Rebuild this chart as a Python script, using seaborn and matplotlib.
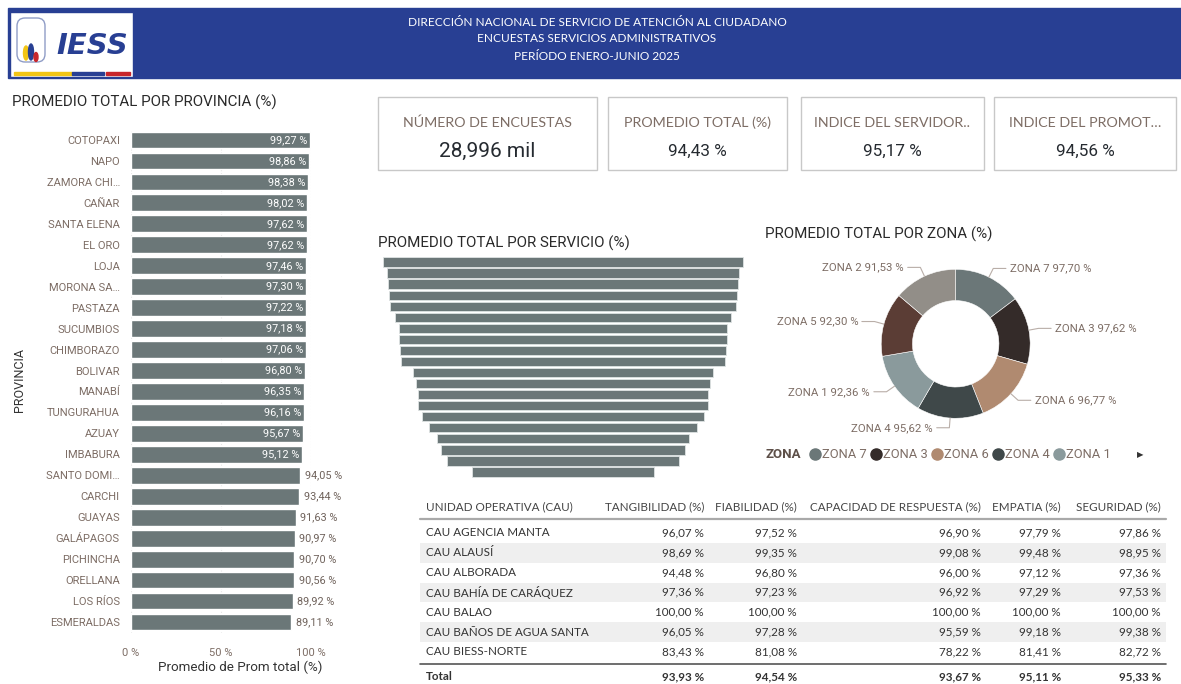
import matplotlib
matplotlib.use("Agg")
import matplotlib.pyplot as plt
from matplotlib.patches import Rectangle, Ellipse, FancyBboxPatch
from matplotlib.lines import Line2D
import numpy as np
import seaborn as sns

# ---- data ----
provincias = ["COTOPAXI", "NAPO", "ZAMORA CHI…", "CAÑAR", "SANTA ELENA", "EL ORO", "LOJA",
              "MORONA SA…", "PASTAZA", "SUCUMBIOS", "CHIMBORAZO", "BOLIVAR", "MANABÍ",
              "TUNGURAHUA", "AZUAY", "IMBABURA", "SANTO DOMI…", "CARCHI", "GUAYAS",
              "GALÁPAGOS", "PICHINCHA", "ORELLANA", "LOS RÍOS", "ESMERALDAS"]
prom_provincia = [99.27, 98.86, 98.38, 98.02, 97.62, 97.62, 97.46, 97.30, 97.22, 97.18, 97.06,
                  96.80, 96.35, 96.16, 95.67, 95.12, 94.05, 93.44, 91.63, 90.97, 90.70, 90.56,
                  89.92, 89.11]

# funnel (no labels shown, widths, relative to the top bar)
servicios = ["S01", "S02", "S03", "S04", "S05", "S06", "S07", "S08", "S09", "S10",
             "S11", "S12", "S13", "S14", "S15", "S16", "S17", "S18", "S19", "S20"]
prom_servicio = [100.0, 97.3, 97.2, 96.4, 95.7, 92.9, 91.1, 90.9, 90.3, 90.0,
                 83.3, 81.3, 80.6, 80.1, 78.3, 74.1, 69.6, 67.4, 64.0, 50.6]

zonas = ["ZONA 7", "ZONA 3", "ZONA 6", "ZONA 4", "ZONA 1", "ZONA 5", "ZONA 2"]
prom_zona = [97.70, 97.62, 96.77, 95.62, 92.36, 92.30, 91.53]

kpi_titulos = ["NÚMERO DE ENCUESTAS", "PROMEDIO TOTAL (%)", "INDICE DEL SERVIDOR..", "INDICE DEL PROMOT…"]
kpi_valores = ["28,996 mil", "94,43 %", "95,17 %", "94,56 %"]

cau = ["CAU AGENCIA MANTA", "CAU ALAUSÍ", "CAU ALBORADA", "CAU BAHÍA DE CARÁQUEZ",
       "CAU BALAO", "CAU BAÑOS DE AGUA SANTA", "CAU BIESS-NORTE"]
tangibilidad = [96.07, 98.69, 94.48, 97.36, 100.00, 96.05, 83.43]
fiabilidad = [97.52, 99.35, 96.80, 97.23, 100.00, 97.28, 81.08]
capacidad = [96.90, 99.08, 96.00, 96.92, 100.00, 95.59, 78.22]
empatia = [97.79, 99.48, 97.12, 97.29, 100.00, 99.18, 81.41]
seguridad = [97.86, 98.95, 97.36, 97.53, 100.00, 99.38, 82.72]
totales = [93.93, 94.54, 93.67, 95.11, 95.33]
columnas = ["UNIDAD OPERATIVA (CAU)", "TANGIBILIDAD (%)", "FIABILIDAD (%)",
            "CAPACIDAD DE RESPUESTA (%)", "EMPATIA (%)", "SEGURIDAD (%)"]

# ---- style ----
sns.set_theme(style="white")
plt.rcParams['font.family'] = ['Roboto', 'DejaVu Sans']
TXT = ['Lato', 'DejaVu Sans']

BAR = "#6b7778"
LBL = "#7d6d65"
DARK = "#333333"
BLUE = "#283f93"
zona_col = {"ZONA 7": "#6b7778", "ZONA 3": "#342b29", "ZONA 6": "#b08a70", "ZONA 4": "#3f4849",
            "ZONA 1": "#8a9a9c", "ZONA 5": "#5b3d35", "ZONA 2": "#928e88"}

W, H = 1181, 684
fig = plt.figure(figsize=(W / 100, H / 100), dpi=100)


def rect(x0, y0, x1, y1):
    return [x0 / W, 1 - y1 / H, (x1 - x0) / W, (y1 - y0) / H]


def pct(v):
    return f"{v:.2f}".replace(".", ",") + " %"


bg = fig.add_axes([0, 0, 1, 1], zorder=-1)
bg.set_xlim(0, W)
bg.set_ylim(H, 0)
bg.axis("off")

# header band + logo
bg.add_patch(Rectangle((8, 8), W - 8, 70, color=BLUE))
bg.add_patch(Rectangle((10, 12), 123, 65, facecolor="white", edgecolor=BLUE, lw=1))
bg.add_patch(FancyBboxPatch((19, 20), 24, 40, boxstyle="round,pad=2,rounding_size=8",
                            facecolor="none", edgecolor="#8f9cc6", lw=1))
bg.add_patch(Ellipse((26, 53), 5, 14, color="#f2c515"))
bg.add_patch(Ellipse((31, 52), 5, 16, color=BLUE))
bg.add_patch(Ellipse((36, 57), 4, 9, color="#c8262c"))
bg.text(92, 46, "IESS", fontsize=21, fontweight="bold", style="italic", color=BLUE,
        ha="center", va="center", family=['DejaVu Sans'])
bg.add_patch(Rectangle((14, 72), 58, 2.5, color="#f2c515"))
bg.add_patch(Rectangle((72, 72), 32, 2.5, color=BLUE))
bg.add_patch(Rectangle((106, 72), 24, 2.5, color="#c8262c"))
for y, s in zip([22, 39, 56], ["DIRECCIÓN NACIONAL DE SERVICIO DE ATENCIÓN AL CIUDADANO",
                               "ENCUESTAS SERVICIOS ADMINISTRATIVOS",
                               "PERÍODO ENERO-JUNIO 2025"]):
    bg.text(597, y, s, color="white", fontsize=8.6, ha="center", va="center", family=TXT)

# titles
for x, y, s in [(12, 102, "PROMEDIO TOTAL POR PROVINCIA (%)"),
                (378, 243, "PROMEDIO TOTAL POR SERVICIO (%)"),
                (765, 234, "PROMEDIO TOTAL POR ZONA (%)")]:
    bg.text(x, y, s, fontsize=10.9, color="#2a2a2a", va="center")

# KPI cards
cards = [(378, 597), (608, 787), (801, 984), (994, 1176)]
for (x0, x1), t, v in zip(cards, kpi_titulos, kpi_valores):
    bg.add_patch(Rectangle((x0, 97), x1 - x0, 73, facecolor="white", edgecolor="#c8c8c8", lw=1))
    bg.text((x0 + x1) / 2, 123, t, fontsize=10.3, color=LBL, ha="center", va="center", family=TXT)
    bg.text((x0 + x1) / 2, 151, v, fontsize=15 if t.startswith("NÚM") else 12.3,
            color="#252a30", ha="center", va="center")

# ---- provinces bar chart ----
ax = fig.add_axes(rect(131, 129.5, 311, 632.5))
sns.barplot(x=prom_provincia, y=provincias, orient="h", color=BAR, saturation=1,
            width=0.8, ax=ax)
ax.set_xlim(0, 100)
ax.set_ylim(len(provincias) - 0.5, -0.5)
ax.set_xticks([0, 50, 100])
ax.set_xticklabels(["0 %", "50 %", "100 %"])
ax.tick_params(axis="x", length=0, pad=11, labelsize=8, labelcolor=LBL)
ax.tick_params(axis="y", length=0, pad=8, labelsize=8, labelcolor=LBL)
ax.set_xlabel("")
ax.set_ylabel("")
ax.grid(axis="x", color="#e6e6e6", ls=":", lw=0.8)
ax.set_axisbelow(True)
sns.despine(ax=ax, left=True, bottom=True)
for i, v in enumerate(prom_provincia):
    if v >= 95:
        ax.text(v - 1.5, i, pct(v), color="white", fontsize=7.8, ha="right", va="center")
    else:
        ax.text(v + 2.5, i, pct(v), color="#6f625b", fontsize=7.8, ha="left", va="center",
                clip_on=False)
bg.text(20, 380, "PROVINCIA", rotation=90, fontsize=9, color=DARK,
        ha="center", va="center")
bg.text(240, 667, "Promedio de Prom total (%)", fontsize=9.6, color=DARK,
        ha="center", va="center")

# ---- funnel ----
axf = fig.add_axes(rect(380, 256.5, 746, 477.5))
vals = np.array(prom_servicio)
axf.barh(np.arange(len(vals)), vals, left=-vals / 2, height=0.84, color=BAR,
         edgecolor="#dfe3e3", lw=0.6)
axf.set_xlim(-50.7, 50.7)
axf.set_ylim(len(vals) - 0.5, -0.5)
axf.axis("off")

# ---- donut ----
cx, cy, R = 955.7, 343.8, 74.5
axd = fig.add_axes(rect(cx - 160, cy - 160, cx + 160, cy + 160))
wedges, _ = axd.pie(prom_zona, colors=[zona_col[z] for z in zonas], startangle=90,
                    counterclock=False, wedgeprops=dict(width=0.42, edgecolor="white", lw=0.4))
lim = 160 / R
axd.set_xlim(-lim, lim)
axd.set_ylim(-lim, lim)
axd.set_aspect("equal")
for w, z, v in zip(wedges, zonas, prom_zona):
    a = np.deg2rad((w.theta1 + w.theta2) / 2)
    x0, y0 = np.cos(a), np.sin(a)
    ex, ey = 1.13 * x0, 1.13 * y0
    s = 1 if x0 >= 0 else -1
    hx = ex + s * 0.17
    axd.plot([1.0 * x0, ex, hx], [1.0 * y0, ey, ey], color="#b9aea8", lw=0.8)
    axd.text(hx + s * 0.05, ey, f"{z} {pct(v)}", fontsize=8.2, color=LBL,
             ha="left" if s > 0 else "right", va="center")

bg.text(765, 455, "ZONA", fontsize=9.5, fontweight="bold", color="#5e5049", va="center")
handles = [Line2D([], [], marker="o", ls="", color=zona_col[z], markersize=8) for z in zonas[:5]]
fig.legend(handles, zonas[:5], loc="center left", bbox_to_anchor=(809 / W, 1 - 455 / H),
           ncol=5, frameon=False, handletextpad=0.0, columnspacing=0.25, handlelength=1.0,
           borderaxespad=0, borderpad=0, labelcolor=LBL, prop={"size": 9.3})
bg.text(1140, 455, "▶", fontsize=6, color=DARK, ha="center", va="center", family=['DejaVu Sans'])

# ---- table ----
col_x = [426, 704, 797, 981, 1061, 1161]
bg.text(col_x[0], 507, columnas[0], fontsize=8.4, color="#444444", va="center", family=TXT)
for x, c in zip(col_x[1:], columnas[1:]):
    bg.text(x, 507, c, fontsize=8.4, color="#444444", va="center", ha="right", family=TXT)
bg.plot([420, 1166], [519, 519], color="#a9a9a9", lw=1.6)
rows = list(zip(cau, tangibilidad, fiabilidad, capacidad, empatia, seguridad))
for k, r in enumerate(rows):
    y = 533 + k * 19.8
    if k % 2 == 1:
        bg.add_patch(Rectangle((420, y - 9.9), 746, 19.8, color="#efefef", lw=0))
    bg.text(col_x[0], y, r[0], fontsize=8.4, color=DARK, va="center", family=TXT)
    for x, v in zip(col_x[1:], r[1:]):
        bg.text(x, y, pct(v), fontsize=8.4, color=DARK, va="center", ha="right", family=TXT)
bg.plot([420, 1166], [664, 664], color="#555555", lw=1.2)
bg.text(col_x[0], 677, "Total", fontsize=8.4, fontweight="bold", color=DARK, va="center", family=TXT)
for x, v in zip(col_x[1:], totales):
    bg.text(x, 677, pct(v), fontsize=8.4, fontweight="bold", color=DARK, va="center", ha="right",
            family=TXT)

fig.savefig("out.png", dpi=100)
